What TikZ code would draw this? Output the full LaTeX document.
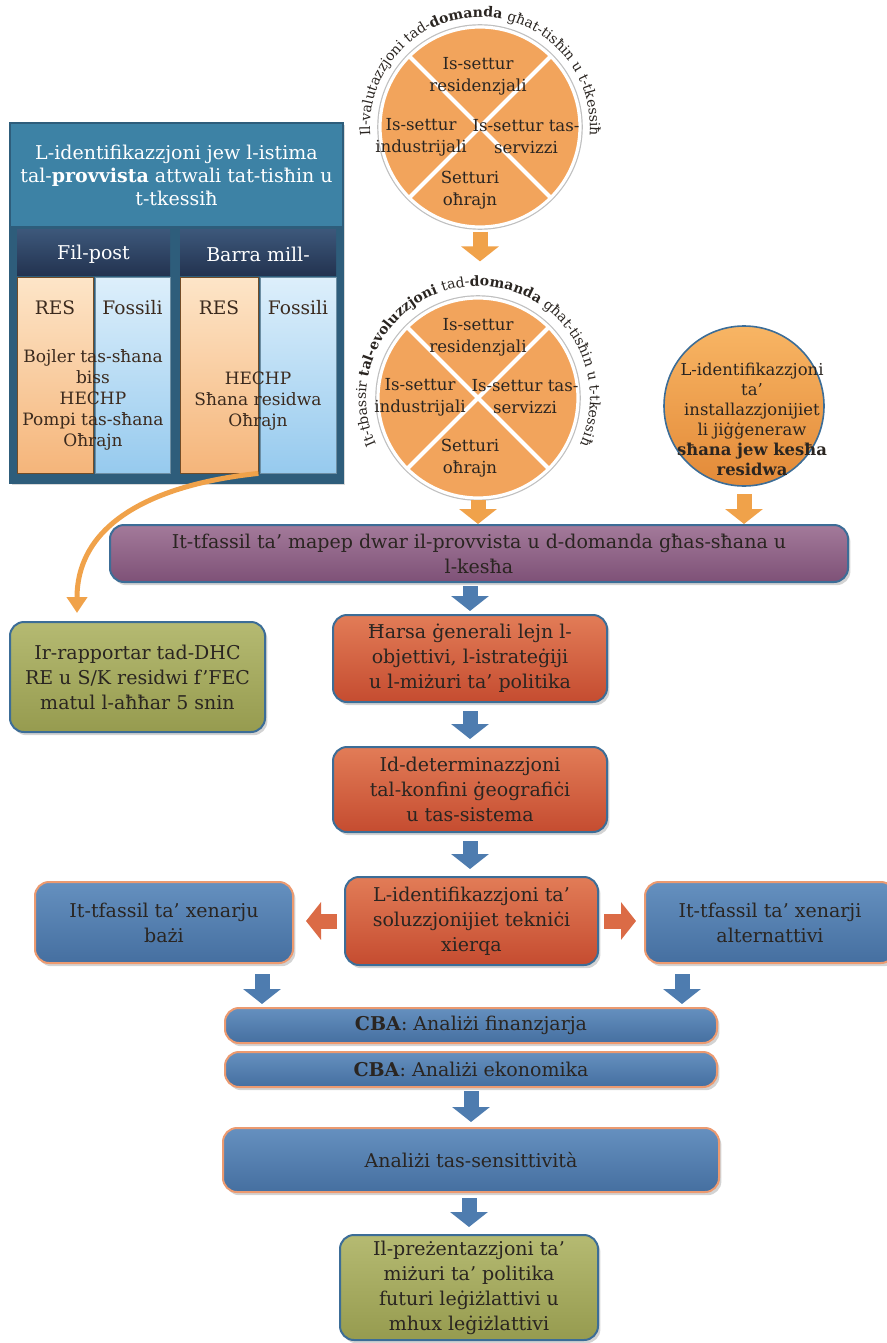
\documentclass[tikz,border=0pt]{standalone}
\usepackage{fontspec}
\setmainfont{DejaVu Serif}
\usetikzlibrary{arrows.meta,shadows,decorations.text}

\definecolor{inkdark}{HTML}{2A2521}
\definecolor{inkbrown}{HTML}{3B2A1E}
\definecolor{circorange}{HTML}{F2A45C}
\definecolor{arroworange}{HTML}{F0A24A}
\definecolor{arrowblue}{HTML}{4E7CAF}
\definecolor{arrowred}{HTML}{DB6B46}
\definecolor{tlframe}{HTML}{2E5D7B}
\definecolor{titleteal}{HTML}{3D82A5}
\definecolor{navytop}{HTML}{3D587B}
\definecolor{navybot}{HTML}{233350}
\definecolor{restop}{HTML}{FDE5C8}
\definecolor{resbot}{HTML}{F5B57A}
\definecolor{fostop}{HTML}{DDEFFB}
\definecolor{fosbot}{HTML}{96CAEE}
\definecolor{redtop}{HTML}{E27C57}
\definecolor{redbot}{HTML}{C54C30}
\definecolor{bluetop}{HTML}{6590BF}
\definecolor{bluebot}{HTML}{456FA0}
\definecolor{purptop}{HTML}{A37A9A}
\definecolor{purpbot}{HTML}{7E5177}
\definecolor{greentop}{HTML}{B5BA72}
\definecolor{greenbot}{HTML}{969B4F}
\definecolor{edgeblue}{HTML}{3C6D97}
\definecolor{edgeorange}{HTML}{EC9A70}
\definecolor{cthreetop}{HTML}{F8B564}
\definecolor{cthreebot}{HTML}{E38A38}

\tikzset{
  x=0.5pt, y=0.5pt,
  every node/.style={text=inkdark},
  stepbox/.style={draw=edgeblue, line width=1pt, rounded corners=7pt, align=center,
    inner sep=2pt, font=\fontsize{9.5}{12.5}\selectfont,
    drop shadow={opacity=0.35, shadow xshift=1.2pt, shadow yshift=-1.6pt}},
  redbox/.style={stepbox, top color=redtop, bottom color=redbot},
  bluebox/.style={stepbox, draw=edgeorange, top color=bluetop, bottom color=bluebot},
  greenbox/.style={stepbox, top color=greentop, bottom color=greenbot},
  purpbox/.style={stepbox, top color=purptop, bottom color=purpbot},
  barrow/.style={draw=arrowblue, line width=7.5pt, -{Triangle[width=18.5pt, length=7.5pt]}},
  rarrow/.style={barrow, draw=arrowred},
  oarrow/.style={barrow, draw=arroworange},
  sectorcirc/.style={circle, fill=circorange, draw=white, line width=1.6pt, inner sep=0pt,
    minimum size=100pt, preaction={draw=black!25, line width=2.8pt}},
  sectortext/.style={align=center, font=\fontsize{8.3}{11}\selectfont},
  ringtext/.style={decorate, decoration={text along path, text align=center,
    text color=inkdark, text={#1}}},
  headcell/.style={top color=navytop, bottom color=navybot, minimum height=23pt, inner sep=0pt},
  colres/.style={top color=restop, bottom color=resbot, draw=brown!60!black, line width=0.4pt,
    minimum height=98pt, inner sep=0pt},
  colfos/.style={top color=fostop, bottom color=fosbot, draw=tlframe!70, line width=0.4pt,
    minimum height=98pt, inner sep=0pt},
  coltext/.style={text=inkbrown, align=center, font=\fontsize{8.5}{10.5}\selectfont},
  collabel/.style={text=inkbrown, font=\fontsize{9.3}{11}\selectfont},
}

\begin{document}
\begin{tikzpicture}
\useasboundingbox (0,0) rectangle (887,-1343);

\draw[tlframe, fill=tlframe, line width=0.8pt, drop shadow={opacity=0.3, shadow xshift=1pt, shadow yshift=-1.2pt}] (10,-123) rectangle (343,-483);
\fill[titleteal] (11,-124) rectangle (342,-226);
\node[text=white, align=center, font=\fontsize{9.5}{11.5}\selectfont] (tl-title) at (176.5,-175)
  {L-identifikazzjoni jew l-istima\\tal-\textbf{provvista} attwali tat-tisħin u\\t-tkessiħ};
\node[headcell, minimum width=76.5pt] (head-1) at (93.5,-252) {};
\node[headcell, minimum width=78pt] (head-2) at (258,-252) {};
\node[colfos, minimum width=37.5pt] (fos-1) at (132.5,-375) {};
\node[colres, minimum width=38pt] (res-1) at (55,-375) {};
\node[colfos, minimum width=38pt] (fos-2) at (298,-375) {};
\node[colres, minimum width=39pt] (res-2) at (219,-375) {};
\node[text=white, font=\fontsize{9.5}{11}\selectfont] (head-1-lbl) at (93.5,-254) {Fil-post};
\node[text=white, font=\fontsize{9.5}{11}\selectfont] (head-2-lbl) at (258,-254) {Barra mill-};
\node[collabel] (res-1-lbl) at (55,-308) {RES};
\node[collabel] (fos-1-lbl) at (132.5,-308) {Fossili};
\node[collabel] (res-2-lbl) at (219,-308) {RES};
\node[collabel] (fos-2-lbl) at (298,-308) {Fossili};
\node[coltext] (list-1) at (93,-400) {Bojler tas-sħana\\biss\\HECHP\\Pompi tas-sħana\\Oħrajn};
\node[coltext] (list-2) at (258,-401) {HECHP\\Sħana residwa\\Oħrajn};

\node[sectorcirc] (circ-1) at (480,-127) {};
\draw[white, line width=2pt] (circ-1.north west) -- (circ-1.south east) (circ-1.north east) -- (circ-1.south west);
\node[sectortext] (circ-1-res) at (478,-76) {Is-settur\\residenzjali};
\node[sectortext] (circ-1-ind) at (421,-137) {Is-settur\\industrijali};
\node[sectortext] (circ-1-ser) at (526,-137) {Is-settur tas-\\servizzi};
\node[sectortext] (circ-1-oth) at (470,-190) {Setturi\\oħrajn};
\path[ringtext={|\fontsize{7}{8}\selectfont|Il-valutazzjoni tad-|\fontsize{7}{8}\selectfont\bfseries|domanda |\fontsize{7}{8}\selectfont\mdseries|għat-tisħin u t-tkessiħ}]
  ([shift={(194:110)}]circ-1.center) arc[start angle=194, end angle=-14, radius=110];

\node[sectorcirc] (circ-2) at (478,-398) {};
\draw[white, line width=2pt] (circ-2.north west) -- (circ-2.south east) (circ-2.north east) -- (circ-2.south west);
\node[sectortext] (circ-2-res) at (478,-337) {Is-settur\\residenzjali};
\node[sectortext] (circ-2-ind) at (420,-397) {Is-settur\\industrijali};
\node[sectortext] (circ-2-ser) at (525,-397) {Is-settur tas-\\servizzi};
\node[sectortext] (circ-2-oth) at (470,-458) {Setturi\\oħrajn};
\path[ringtext={|\fontsize{7}{8}\selectfont|It-tbassir |\fontsize{7}{8}\selectfont\bfseries|tal-evoluzzjoni |\fontsize{7}{8}\selectfont\mdseries|tad-|\fontsize{7}{8}\selectfont\bfseries|domanda |\fontsize{7}{8}\selectfont\mdseries|għat-tisħin u t-tkessiħ}]
  ([shift={(222:112)}]circ-2.center) arc[start angle=222, end angle=-42, radius=112];

\node[circle, top color=cthreetop, bottom color=cthreebot, draw=edgeblue, line width=0.8pt,
  minimum size=80pt, inner sep=0pt] (circ-3) at (744,-406) {};
\node[align=center, font=\fontsize{8.2}{10}\selectfont] (circ-3-txt) at (752,-419)
  {L-identifikazzjoni\\ta’\\installazzjonijiet\\li jiġġeneraw\\\textbf{sħana jew kesħa}\\\textbf{residwa}};

\node[purpbox, minimum width=369pt, minimum height=28.5pt] (mapep) at (479,-553.5)
  {It-tfassil ta’ mapep dwar il-provvista u d-domanda għas-sħana u\\l-kesħa};
\node[greenbox, minimum width=127.5pt, minimum height=55pt] (rapport) at (137.5,-677)
  {Ir-rapportar tad-DHC\\RE u S/K residwi f’FEC\\matul l-aħħar 5 snin};
\node[redbox, minimum width=137pt, minimum height=43.5pt] (harsa) at (470,-658.5)
  {Ħarsa ġenerali lejn l-\\objettivi, l-istrateġiji\\u l-miżuri ta’ politika};
\node[redbox, minimum width=137pt, minimum height=42.5pt] (determ) at (470,-789.5)
  {Id-determinazzjoni\\tal-konfini ġeografiċi\\u tas-sistema};
\node[redbox, minimum width=126.5pt, minimum height=44pt] (soluz) at (471.5,-921)
  {L-identifikazzjoni ta’\\soluzzjonijiet tekniċi\\xierqa};
\node[bluebox, minimum width=129pt, minimum height=40.5pt] (xenbazi) at (164,-922.5)
  {It-tfassil ta’ xenarju\\bażi};
\node[bluebox, minimum width=125pt, minimum height=40.5pt] (xenalt) at (770,-922.5)
  {It-tfassil ta’ xenarji\\alternattivi};
\node[bluebox, minimum width=246pt, minimum height=17.5pt] (cba-1) at (471,-1025.5)
  {\textbf{CBA}: Analiżi finanzjarja};
\node[bluebox, minimum width=246pt, minimum height=17.5pt] (cba-2) at (471,-1069.5)
  {\textbf{CBA}: Analiżi ekonomika};
\node[bluebox, minimum width=248pt, minimum height=32pt] (sens) at (471,-1160)
  {Analiżi tas-sensittività};
\node[greenbox, minimum width=129pt, minimum height=52.5pt] (prez) at (469,-1287.5)
  {Il-preżentazzjoni ta’\\miżuri ta’ politika\\futuri leġiżlattivi u\\mhux leġiżlattivi};

\draw[oarrow, shorten <=1.5pt, shorten >=17.5pt] (circ-1.south) -- (circ-1.south |- circ-2.north);
\draw[oarrow] (circ-2.south) -- (circ-2.south |- mapep.north);
\draw[oarrow, shorten <=3.5pt] (circ-3.south) -- (circ-3.south |- mapep.north);
\draw[arroworange, line width=2.5pt, -{Triangle[width=10pt, length=8pt]}, shorten >=4pt]
  (res-2.south east) to[out=186, in=90, looseness=1.1] ([xshift=-30.25pt]rapport.north);
\draw[barrow, shorten <=1.5pt, shorten >=1.5pt] (mapep.south -| harsa.north) -- (harsa.north);
\draw[barrow, shorten <=4pt, shorten >=3.5pt] (harsa.south) -- (determ.north);
\draw[barrow, shorten <=4pt, shorten >=3.5pt] (determ.south) -- (determ.south |- soluz.north);
\draw[rarrow, shorten <=3.5pt, shorten >=6pt] (soluz.west) -- (soluz.west -| xenbazi.east);
\draw[rarrow, shorten <=2.5pt, shorten >=4pt] (soluz.east) -- (soluz.east -| xenalt.west);
\draw[barrow, shorten <=5pt, shorten >=1.5pt] (xenbazi.south -| 262,0) -- (cba-1.north -| 262,0);
\draw[barrow, shorten <=5pt, shorten >=1.5pt] (xenalt.south -| 682,0) -- (cba-1.north -| 682,0);
\draw[barrow, shorten <=1.5pt, shorten >=2.5pt] (cba-2.south -| sens.north) -- (sens.north);
\draw[barrow, shorten <=2.5pt, shorten >=3.5pt] (sens.south -| prez.north) -- (prez.north);
\end{tikzpicture}
\end{document}
